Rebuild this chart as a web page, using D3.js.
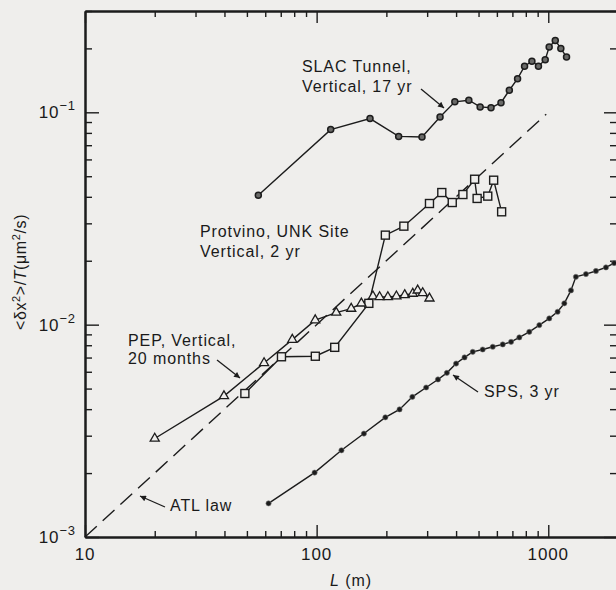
<!DOCTYPE html>
<html>
<head>
<meta charset="utf-8">
<script src="https://cdn.jsdelivr.net/npm/d3@7"></script>
<style>
body { margin: 0; background: #efeeec; }
svg { display: block; font-family: "Liberation Sans", Arial, sans-serif; }
.lbl { font-size: 16px; letter-spacing: 0.9px; fill: #1a1a1a; }
</style>
</head>
<body>
<div id="chart"></div>
<script>
// tick values
var xMajor = [10, 100, 1000];
var yMajor = [0.001, 0.01, 0.1];

// SLAC tunnel, vertical, 17 yr
var slacL = [56, 115, 170, 226, 285, 341, 395, 454, 508, 566, 625, 679, 737, 790, 850, 907, 970, 1009, 1072, 1133, 1199];
var slacD = [0.0407, 0.0829, 0.0934, 0.077, 0.0765, 0.095, 0.112, 0.114, 0.106, 0.105, 0.111, 0.127, 0.144, 0.165, 0.174, 0.165, 0.177, 0.203, 0.218, 0.200, 0.182];

// Protvino, UNK site, vertical, 2 yr
var protL = [49, 70.5, 98.7, 119.7, 168, 198, 238, 307, 347, 385, 428, 481, 493, 548, 581, 629];
var protD = [0.00474, 0.00706, 0.0071, 0.00782, 0.0126, 0.0264, 0.0291, 0.0372, 0.0419, 0.0376, 0.041, 0.0484, 0.0393, 0.0403, 0.0479, 0.034];

// PEP, vertical, 20 months
var pepL = [20, 39.8, 59.3, 78.5, 98.6, 121.5, 141, 156, 175, 187, 203, 221, 240, 260, 273, 287, 307];
var pepD = [0.00291, 0.00461, 0.0066, 0.0085, 0.0105, 0.0114, 0.0119, 0.0126, 0.0136, 0.0135, 0.0135, 0.0136, 0.0138, 0.0140, 0.0145, 0.0141, 0.0133];

// SPS, 3 yr
var spsL = [62, 98, 128, 160, 198, 228, 259, 297, 334, 365, 400, 435, 472, 521, 576, 636, 691, 750, 828, 915, 1010, 1097, 1173, 1253, 1316, 1454, 1606, 1774, 1925];
var spsD = [0.00144, 0.00201, 0.00256, 0.00307, 0.00366, 0.00399, 0.00457, 0.00506, 0.00552, 0.00593, 0.00656, 0.00701, 0.00745, 0.00764, 0.00787, 0.00807, 0.0083, 0.00871, 0.00925, 0.00995, 0.0107, 0.0115, 0.0126, 0.0145, 0.0168, 0.0173, 0.0179, 0.0186, 0.0195];

// ATL law line
var atlL = [10, 980];
var atlD = [0.001, 0.098];

var svgWidth = 616;
var svgHeight = 590;

// plot frame
var frame = { left: 85, right: 618, top: 11, bottom: 537 };
var ink = "#1c1c1c";
var paper = "#efeeec";

var svg = d3.select("#chart")
    .append("svg")
    .attr("width", svgWidth)
    .attr("height", svgHeight);

// arrow head
svg.append("defs").append("marker")
    .attr("id", "arrow")
    .attr("viewBox", "0 0 10 10")
    .attr("refX", 10)
    .attr("refY", 5)
    .attr("markerWidth", 9)
    .attr("markerHeight", 6)
    .attr("markerUnits", "userSpaceOnUse")
    .attr("orient", "auto")
    .append("path")
    .attr("d", "M0,0 L10,5 L0,10 z")
    .attr("fill", ink);

var x = d3.scaleLog().domain([10, 2000]).range([frame.left, frame.right]);
var y = d3.scaleLog().domain([0.001, 0.3]).range([frame.bottom, frame.top]);

// minor ticks 2..9 in each decade
function minors(lo, hi) {
    var out = [];
    for (var p = lo; p < hi; p++) {
        for (var k = 2; k <= 9; k++) {
            out.push(+(k * Math.pow(10, p)).toPrecision(3));
        }
    }
    return out;
}
var xMinor = minors(1, 4).filter(d => d <= 2000);
var yMinor = minors(-3, 0).filter(d => d <= 0.3);

function styleAxis(g) {
    g.selectAll("path").attr("stroke", ink).attr("stroke-width", 2);
    g.selectAll("line").attr("stroke", ink).attr("stroke-width", 1.4);
    g.selectAll("text").remove();
}

// bottom
svg.append("g").attr("transform", `translate(0,${frame.bottom})`)
    .call(d3.axisBottom(x).tickValues(xMajor).tickSize(-12).tickSizeOuter(0)).call(styleAxis);
svg.append("g").attr("transform", `translate(0,${frame.bottom})`)
    .call(d3.axisBottom(x).tickValues(xMinor).tickSize(-6).tickSizeOuter(0)).call(styleAxis);
// top
svg.append("g").attr("transform", `translate(0,${frame.top})`)
    .call(d3.axisTop(x).tickValues(xMajor).tickSize(-12).tickSizeOuter(0)).call(styleAxis);
svg.append("g").attr("transform", `translate(0,${frame.top})`)
    .call(d3.axisTop(x).tickValues(xMinor).tickSize(-6).tickSizeOuter(0)).call(styleAxis);
// left
svg.append("g").attr("transform", `translate(${frame.left},0)`)
    .call(d3.axisLeft(y).tickValues(yMajor).tickSize(-14).tickSizeOuter(0)).call(styleAxis);
svg.append("g").attr("transform", `translate(${frame.left},0)`)
    .call(d3.axisLeft(y).tickValues(yMinor).tickSize(-7).tickSizeOuter(0)).call(styleAxis);
// right
svg.append("g").attr("transform", `translate(${frame.right},0)`)
    .call(d3.axisRight(y).tickValues(yMajor).tickSize(-14).tickSizeOuter(0)).call(styleAxis);
svg.append("g").attr("transform", `translate(${frame.right},0)`)
    .call(d3.axisRight(y).tickValues(yMinor).tickSize(-8).tickSizeOuter(0)).call(styleAxis);

// x tick labels
svg.selectAll("text.xtick")
    .data(xMajor)
    .enter()
    .append("text")
    .attr("class", "lbl xtick")
    .style("font-size", "17px")
    .attr("x", d => x(d))
    .attr("y", frame.bottom + 23)
    .attr("text-anchor", "middle")
    .text(d => d);

// y tick labels 10^n
var yLab = svg.selectAll("text.ytick")
    .data(yMajor)
    .enter()
    .append("text")
    .attr("class", "lbl ytick")
    .style("font-size", "17px")
    .attr("x", frame.left - 9)
    .attr("y", d => y(d) + 6)
    .attr("text-anchor", "end");
yLab.append("tspan").text("10");
yLab.append("tspan")
    .attr("dy", -8)
    .style("font-size", "13px")
    .text(d => "\u2212" + (-Math.round(Math.log10(d))));

// axis titles
var xt = svg.append("text")
    .attr("class", "lbl")
    .attr("x", 351)
    .attr("y", 586)
    .attr("text-anchor", "middle");
xt.append("tspan").style("font-style", "italic").text("L");
xt.append("tspan").text(" (m)");

var yt = svg.append("text")
    .attr("class", "lbl")
    .style("font-size", "16px")
    .style("letter-spacing", "0.6px")
    .attr("transform", "translate(26,272) rotate(-90)")
    .attr("text-anchor", "middle");
yt.append("tspan").text("<\u03b4x");
yt.append("tspan").attr("dy", -6).style("font-size", "11px").text("2");
yt.append("tspan").attr("dy", 6).text(">/");
yt.append("tspan").style("font-style", "italic").text("T");
yt.append("tspan").text("(\u03bcm");
yt.append("tspan").attr("dy", -6).style("font-size", "11px").text("2");
yt.append("tspan").attr("dy", 6).text("/s)");

var line = d3.line().x(d => x(d[0])).y(d => y(d[1]));

// ATL law dashed line
svg.append("path")
    .datum(d3.zip(atlL, atlD))
    .attr("d", line)
    .attr("fill", "none")
    .attr("stroke", ink)
    .attr("stroke-width", 1.4)
    .attr("stroke-dasharray", "16,8");

function drawSeries(L, D) {
    svg.append("path")
        .datum(d3.zip(L, D))
        .attr("d", line)
        .attr("fill", "none")
        .attr("stroke", ink)
        .attr("stroke-width", 1.4);
    return d3.zip(L, D);
}

var slac = drawSeries(slacL, slacD);
var prot = drawSeries(protL, protD);
var pep = drawSeries(pepL, pepD);
var sps = drawSeries(spsL, spsD);

// SLAC circles
svg.selectAll("circle.slac")
    .data(slac)
    .enter()
    .append("circle")
    .attr("class", "slac")
    .attr("cx", d => x(d[0]))
    .attr("cy", d => y(d[1]))
    .attr("r", 3)
    .attr("fill", "#6a6a68")
    .attr("stroke", ink)
    .attr("stroke-width", 1.5);

// Protvino open squares
svg.selectAll("rect.prot")
    .data(prot)
    .enter()
    .append("rect")
    .attr("class", "prot")
    .attr("x", d => x(d[0]) - 4)
    .attr("y", d => y(d[1]) - 4)
    .attr("width", 8)
    .attr("height", 8)
    .attr("fill", paper)
    .attr("stroke", ink)
    .attr("stroke-width", 1.4);

// PEP open triangles
var tri = d3.symbol().type(d3.symbolTriangle).size(36);
svg.selectAll("path.pep")
    .data(pep)
    .enter()
    .append("path")
    .attr("class", "pep")
    .attr("d", tri)
    .attr("transform", d => `translate(${x(d[0])},${y(d[1])})`)
    .attr("fill", paper)
    .attr("stroke", ink)
    .attr("stroke-width", 1.3);

// SPS small filled dots
svg.selectAll("circle.sps")
    .data(sps)
    .enter()
    .append("circle")
    .attr("class", "sps")
    .attr("cx", d => x(d[0]))
    .attr("cy", d => y(d[1]))
    .attr("r", 2.6)
    .attr("fill", ink)
    .attr("stroke", "#777")
    .attr("stroke-width", 0.6);

// annotations
function label(lines, px, py, gap) {
    lines.forEach(function(t, i) {
        svg.append("text")
            .attr("class", "lbl")
            .attr("x", px)
            .attr("y", py + i * gap)
            .text(t);
    });
}
function arrow(x1, y1, x2, y2) {
    svg.append("line")
        .attr("x1", x1).attr("y1", y1)
        .attr("x2", x2).attr("y2", y2)
        .attr("stroke", ink)
        .attr("stroke-width", 1.3)
        .attr("marker-end", "url(#arrow)");
}

label(["SLAC Tunnel,", "Vertical, 17 yr"], 302, 72, 20);
arrow(421, 89, 444, 108);

label(["Protvino, UNK Site", "Vertical, 2 yr"], 200, 237, 20);

label(["PEP, Vertical,", "20 months"], 128, 346, 18);
arrow(217, 360, 240, 378);

label(["SPS, 3 yr"], 484, 397, 0);
arrow(478, 392, 453, 375);

label(["ATL law"], 170, 511, 0);
arrow(165, 507, 140, 496);
</script>
</body>
</html>
